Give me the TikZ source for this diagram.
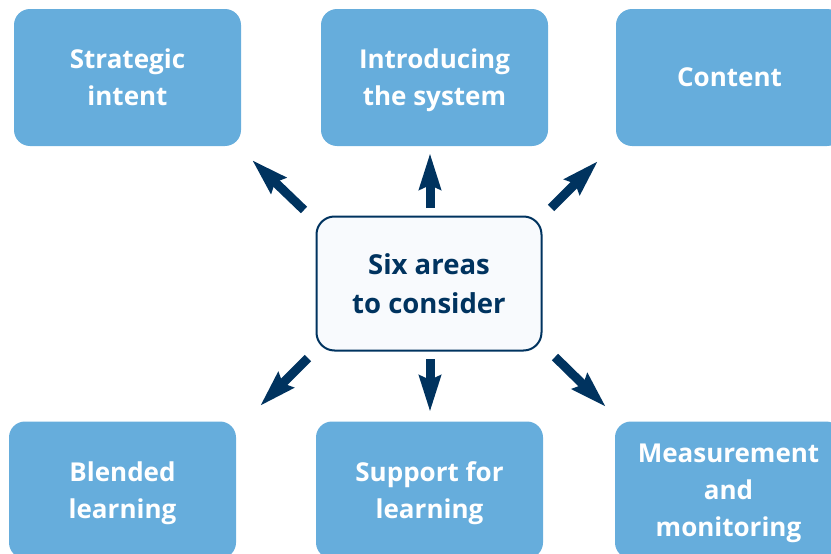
\documentclass[tikz,border=0pt]{standalone}
\usepackage{fontspec}
\setmainfont{Open Sans}
\usetikzlibrary{arrows.meta}
\definecolor{boxblue}{HTML}{66ADDC}
\definecolor{navy}{HTML}{00335F}
\definecolor{paleface}{HTML}{F8FAFD}
\tikzset{
  area/.style={fill=boxblue, rounded corners=16pt, minimum width=227pt,
    minimum height=137pt, text=white, align=center, inner sep=0pt,
    text depth=-3pt, font=\bfseries\fontsize{26}{37}\selectfont},
  hub/.style={draw=navy, line width=2pt, fill=paleface, rounded corners=18pt,
    minimum width=225pt, minimum height=134pt, text=navy, align=center,
    inner sep=0pt, text depth=-1pt, font=\bfseries\fontsize{27.5}{39}\selectfont},
  pointer/.style={draw=navy, line width=9pt,
    -{Stealth[length=36pt, width=21pt, inset=4pt]}}
}
\begin{document}
\begin{tikzpicture}[x=1pt, y=-1pt]
\useasboundingbox (0,0) rectangle (831,554);
\clip (0,0) rectangle (831,554);

% six outer areas
\node[area] (strategic) at (127.5,77.5) {Strategic\\intent};
\node[area] (intro) at (434.5,77.5) {Introducing\\the system};
\node[area] (content) at (729.5,77.5) {Content};
\node[area] (blended) at (122.5,490) {Blended\\learning};
\node[area] (support) at (429.5,490) {Support for\\learning};
\node[area] (measure) at (728.5,490) {Measurement\\and\\monitoring};

% central box
\node[hub] (hub) at (429,283.5) {Six areas\\to consider};

% arrow end points
\coordinate (uls) at (304,210); \coordinate (ult) at (252,160);
\coordinate (ups) at (430,208); \coordinate (upt) at (430,153);
\coordinate (urs) at (551,208); \coordinate (urt) at (598,161);
\coordinate (dls) at (308,358); \coordinate (dlt) at (260,406);
\coordinate (dns) at (430,359); \coordinate (dnt) at (430,412);
\coordinate (drs) at (555,357); \coordinate (drt) at (606,407);

\draw[pointer] (uls) -- (ult);
\draw[pointer] (ups) -- (upt);
\draw[pointer] (urs) -- (urt);
\draw[pointer] (dls) -- (dlt);
\draw[pointer] (dns) -- (dnt);
\draw[pointer] (drs) -- (drt);
\end{tikzpicture}
\end{document}
